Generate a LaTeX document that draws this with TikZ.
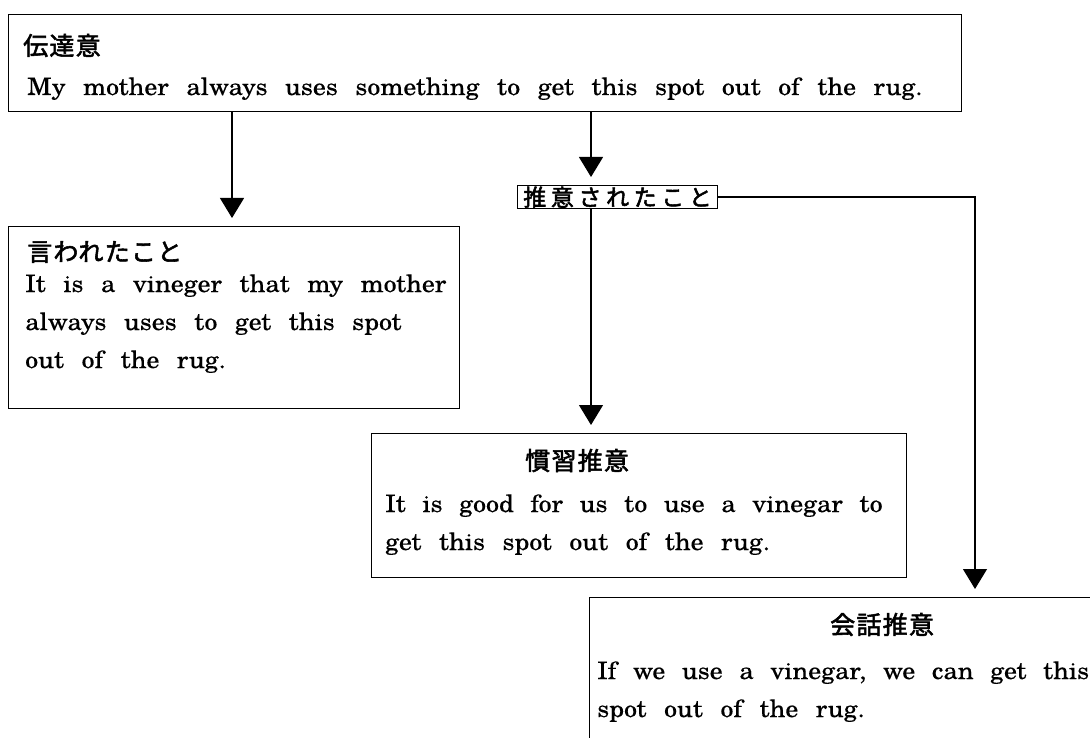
\documentclass[tikz,border=0pt]{standalone}
\usepackage{fontspec}
\newfontfamily\cjk{Noto Sans CJK JP}[FakeBold=2.2]
\newfontfamily\enf{texgyreschola-regular.otf}[FakeStretch=1.08,FakeBold=0.1]
\usetikzlibrary{arrows.meta}
\newcommand\entext{\enf\fontsize{24}{38}\selectfont\spaceskip=17.5pt plus 2pt minus 2pt\relax}
\newcommand\jptext{\cjk\addfontfeature{LetterSpace=5}\fontsize{25}{30}\selectfont}
\begin{document}
\begin{tikzpicture}[x=1pt,y=-1pt,
  box/.style={draw, line width=1.2pt, inner sep=0pt, anchor=north west},
  en/.style={anchor=base west, inner sep=0pt, font=\entext},
  ennarrow/.style={en, font={\entext\spaceskip=16.6pt\relax}},
  jp/.style={anchor=base west, inner sep=0pt, font=\jptext},
  arr/.style={line width=1.2pt, -{Triangle[width=24pt,length=20pt]}, shorten >=8pt}]
\useasboundingbox (0,0) rectangle (1090,738);
\clip (0,0) rectangle (1090,738);
% boxes
\node[box, minimum width=953pt, minimum height=97pt] (top) at (8,14) {};
\node[jp] (topT) at (23,55) {伝達意};
\node[en] (topL) at (27,95) {My mother always uses something to get this spot out of the rug.};

\node[box, minimum width=451pt, minimum height=182pt] (said) at (8,226) {};
\node[jp] (saidT) at (27,261) {言われたこと};
\node[en] (said1) at (25,292) {It is a vineger that my mother};
\node[en] (said2) at (25,330) {always uses to get this spot};
\node[en] (said3) at (25,368) {out of the rug.};

\node[draw, line width=1.2pt, inner sep=0pt, minimum width=200pt, minimum height=23pt,
      anchor=north west, font=\cjk\addfontfeature{LetterSpace=20}\fontsize{23}{23}\selectfont] (impl) at (517,185) {推意されたこと};

\node[box, minimum width=535pt, minimum height=144pt] (conv) at (371,433) {};
\node[jp] (convT) at (525,470) {慣習推意};
\node[ennarrow] (conv1) at (385,512) {It is good for us to use a vinegar to};
\node[en] (conv2) at (385,550) {get this spot out of the rug.};

\node[box, minimum width=600pt, minimum height=250pt] (cnv) at (589,597) {};
\node[jp] (cnvT) at (830,634) {会話推意};
\node[ennarrow] (cnv1) at (597,679) {If we use a vinegar, we can get this};
\node[en] (cnv2) at (597,717) {spot out of the rug.};

% connectors
\coordinate (c1) at (232,0);
\coordinate (c2) at (591,0);
\coordinate (c3) at (975,0);
\draw[arr] (top.south -| c1) -- (said.north -| c1);
\draw[arr] (top.south -| c2) -- (impl.north -| c2);
\draw[arr] (impl.south -| c2) -- (conv.north -| c2);
\draw[arr] (impl.east) -- (impl.east -| c3) -- (cnv.north -| c3);
\end{tikzpicture}
\end{document}
